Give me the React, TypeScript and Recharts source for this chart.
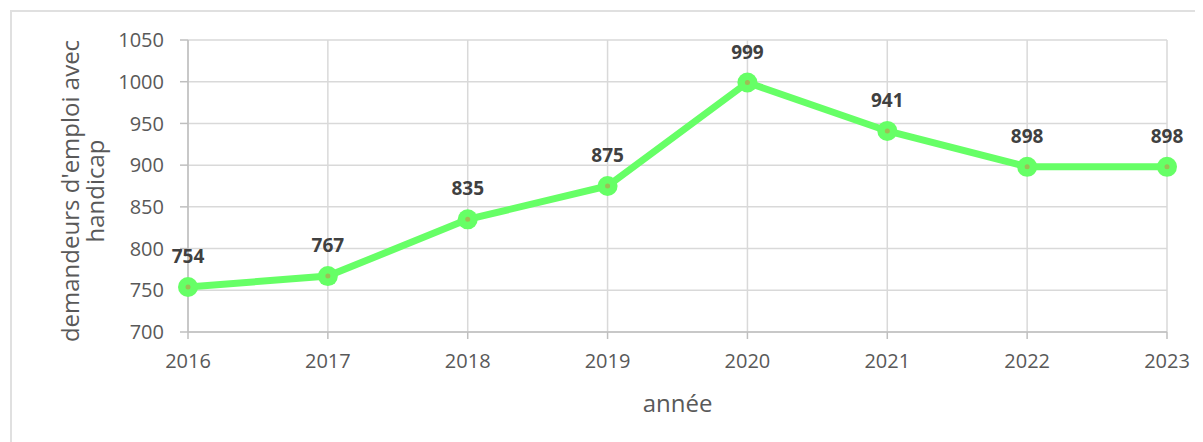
import React from "react";
import { LineChart, Line, XAxis, YAxis, CartesianGrid, LabelList, Label } from "recharts";

const years = ["2016", "2017", "2018", "2019", "2020", "2021", "2022", "2023"];
const demandeurs = [754, 767, 835, 875, 999, 941, 898, 898];
const yTicks = [700, 750, 800, 850, 900, 950, 1000, 1050];

const data = years.map((annee, i) => ({ annee, value: demandeurs[i] }));

const FONT = "'Open Sans', 'Noto Sans', sans-serif";
const GREEN = "#66FF66";

const Dot = (props: any) => {
  const { cx, cy } = props;
  if (cx == null || cy == null) return null;
  return (
    <g>
      <circle cx={cx} cy={cy} r={10} fill={GREEN} />
      <circle cx={cx} cy={cy} r={2.5} fill="#9EBE55" />
    </g>
  );
};

const YTitle = (props: any) => {
  const vb = props.viewBox || {};
  const cy = vb.y + vb.height / 2 + 5;
  const x1 = vb.x + 61;
  const x2 = vb.x + 86;
  return (
    <g fill="#595959" fontFamily={FONT} fontSize={24}>
      <text x={x1} y={cy} textAnchor="middle" dominantBaseline="central" transform={`rotate(-90, ${x1}, ${cy})`}>
        demandeurs d'emploi avec
      </text>
      <text x={x2} y={cy} textAnchor="middle" dominantBaseline="central" transform={`rotate(-90, ${x2}, ${cy})`}>
        handicap
      </text>
    </g>
  );
};

const XTitle = (props: any) => {
  const vb = props.viewBox || {};
  const cx = vb.x + vb.width / 2;
  return (
    <text x={cx} y={vb.y + 70} textAnchor="middle" dominantBaseline="central" fill="#595959" fontFamily={FONT} fontSize={24}>
      année
    </text>
  );
};

export default function App() {
  return (
    <div style={{ position: "relative", width: 1195, height: 434, overflow: "hidden", fontFamily: FONT }}>
      <div
        style={{
          position: "absolute",
          left: 2,
          top: 2,
          width: 1400,
          height: 800,
          borderLeft: "2px solid #e0e0e0",
          borderTop: "2px solid #e0e0e0",
        }}
      />
      <LineChart
        width={1195}
        height={434}
        data={data}
        margin={{ top: 32, right: 36, left: 0, bottom: 0 }}
        style={{ position: "absolute", left: 0, top: 0 }}
      >
        <CartesianGrid stroke="#d9d9d9" strokeWidth={1.5} />
        <XAxis
          dataKey="annee"
          height={110}
          tickSize={7}
          tickMargin={15}
          axisLine={{ stroke: "#bfbfbf", strokeWidth: 1.5 }}
          tickLine={{ stroke: "#bfbfbf", strokeWidth: 1.5 }}
          tick={{ fill: "#595959", fontSize: 20, fontFamily: FONT }}
        >
          <Label content={<XTitle />} />
        </XAxis>
        <YAxis
          width={180}
          domain={[700, 1050]}
          ticks={yTicks}
          interval={0}
          tickSize={8}
          tickMargin={16}
          axisLine={{ stroke: "#bfbfbf", strokeWidth: 1.5 }}
          tickLine={{ stroke: "#bfbfbf", strokeWidth: 1.5 }}
          tick={{ fill: "#595959", fontSize: 20, fontFamily: FONT }}
        >
          <Label content={<YTitle />} />
        </YAxis>
        <Line
          type="linear"
          dataKey="value"
          stroke={GREEN}
          strokeWidth={7}
          dot={<Dot />}
          activeDot={false}
          isAnimationActive={false}
        >
          <LabelList
            dataKey="value"
            position="top"
            offset={24}
            fill="#404040"
            fontSize={19}
            fontWeight="bold"
            fontFamily={FONT}
          />
        </Line>
      </LineChart>
    </div>
  );
}
